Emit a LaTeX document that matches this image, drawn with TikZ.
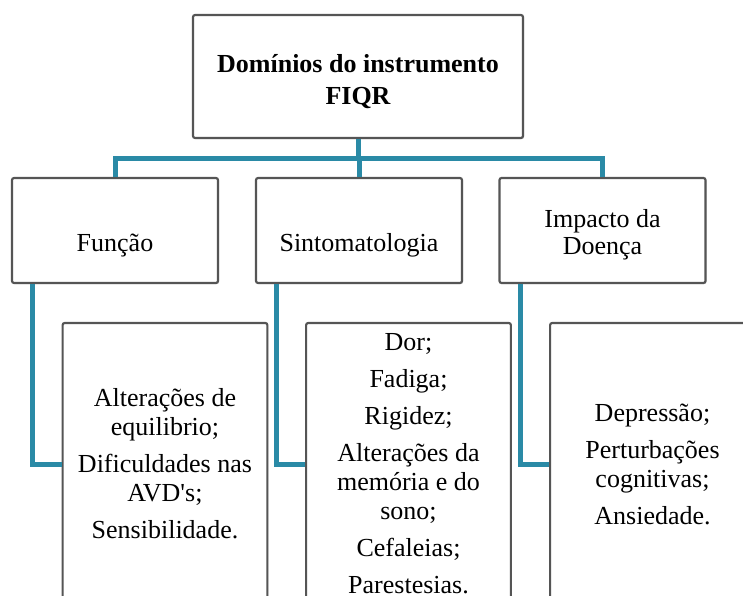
\documentclass[tikz,border=0pt]{standalone}
\usepackage{fontspec}
\setmainfont{Liberation Serif}
\usetikzlibrary{shadows}

\definecolor{linkteal}{RGB}{42,138,166}
\definecolor{boxgray}{RGB}{85,85,85}

\tikzset{every picture/.style={line width=0.75pt}}
\tikzset{
  box/.style={draw=boxgray, line width=1.6pt, fill=white, rounded corners=1.5pt, align=center, inner sep=0pt,
    drop shadow={opacity=0.25, shadow xshift=0.8pt, shadow yshift=-0.8pt}},
  topbox/.style={box, minimum width=247.5pt, minimum height=92.25pt, font=\fontsize{19.5}{24}\selectfont\bfseries},
  domainbox/.style={box, minimum width=154.5pt, minimum height=78.75pt, font=\fontsize{19.5}{20.25}\selectfont},
  oneline/.style={text height=36pt, text depth=5pt},
  itemsbox/.style={box, minimum width=153.5pt, minimum height=211.5pt, font=\fontsize{19.5}{21.75}\selectfont},
  link/.style={draw=linkteal, line width=3.75pt},
}

\begin{document}
\begin{tikzpicture}[x=0.75pt,y=0.75pt,yscale=-1,xscale=1]
\useasboundingbox (0,0) rectangle (743,596);
\clip (0,0) rectangle (743,596);

%Shape: Rectangle [id:top]
\node[topbox, text height=44.5pt] (dom) at (358,76.5) {Domínios do instrumento\\FIQR};
%Shape: Rectangle [id:domains]
\node[domainbox, oneline] (fun) at (115,230.5) {Função};
\node[domainbox, oneline] (sin) at (359,230.5) {Sintomatologia};
\node[domainbox, text height=40.3pt] (imp) at (602.5,230.5) {Impacto da\\Doença};
%Shape: Rectangle [id:items]
\node[itemsbox] (funD) at (165,464) {Alterações de\\equilibrio;\\[6pt]Dificuldades nas\\AVD\textquotesingle s;\\[6pt]Sensibilidade.};
\node[itemsbox] (sinD) at (408.5,464) {Dor;\\[6pt]Fadiga;\\[6pt]Rigidez;\\[6pt]Alterações da\\memória e do\\sono;\\[6pt]Cefaleias;\\[6pt]Parestesias.};
\node[itemsbox] (impD) at (652.5,464) {Depressão;\\[6pt]Perturbações\\cognitivas;\\[6pt]Ansiedade.};

%Straight Lines [id:bus]
\coordinate (bus) at (358,158);
\draw[link] (dom.south) -- (dom.south |- bus);
\draw[link] (fun.north) |- (bus) -| (imp.north);
\draw[link] (sin.north) -- (sin.north |- bus);
%Straight Lines [id:branches]
\draw[link] ([xshift=16.5pt]fun.south west) |- (funD.west);
\draw[link] ([xshift=16.5pt]sin.south west) |- (sinD.west);
\draw[link] ([xshift=16.5pt]imp.south west) |- (impD.west);

\end{tikzpicture}
\end{document}
